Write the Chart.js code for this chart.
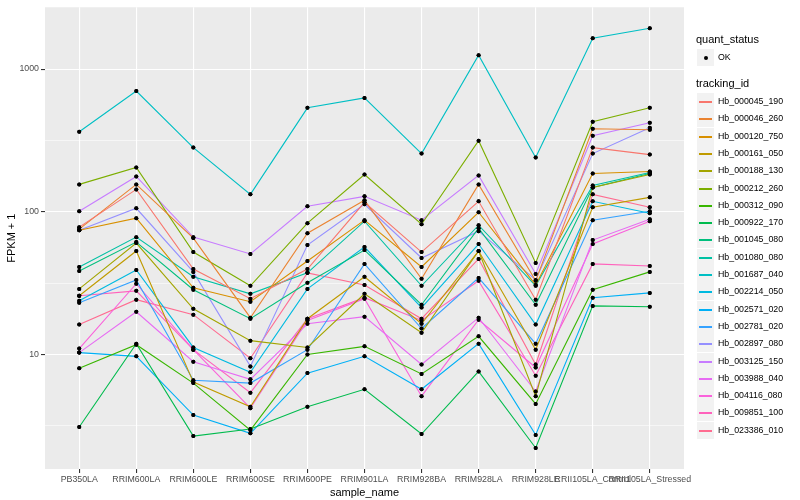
<!DOCTYPE html>
<html>
<head>
<meta charset="utf-8">
<script src="https://cdn.jsdelivr.net/npm/chart.js@4.4.1/dist/chart.umd.min.js"></script>
<style>
  html, body { margin: 0; padding: 0; background: #fff; }
  #wrap { position: relative; width: 800px; height: 500px; font-family: "Liberation Sans", Arial, sans-serif; }
  #legend { position: absolute; left: 0; top: 0; }
  .lt { position: absolute; left: 696px; font-size: 11px; line-height: 13px; color: #000; white-space: nowrap; }
  .key { position: absolute; left: 697px; width: 17px; height: 17px; background: #f2f2f2; }
  .key i { position: absolute; left: 2px; width: 13px; top: 8px; height: 1.5px; }
  .key b { position: absolute; left: 6.5px; top: 6.5px; width: 4px; height: 4px; border-radius: 50%; background: #000; }
  .lab { position: absolute; left: 718px; font-size: 8.8px; line-height: 11px; color: #000; white-space: nowrap; }
</style>
</head>
<body>
<div id="wrap">
  <canvas id="fpkmChart" width="800" height="500"></canvas>
  <div id="legend"></div>
</div>
<script>
/* FPKM + 1 per sample, one line per tracking_id, log10 y axis */

const sampleNames = ['PB350LA','RRIM600LA','RRIM600LE','RRIM600SE','RRIM600PE','RRIM901LA',
  'RRIM928BA','RRIM928LA','RRIM928LE','RRII105LA_Control','RRII105LA_Stressed'];

const trackingIds = ['Hb_000045_190','Hb_000046_260','Hb_000120_750','Hb_000161_050','Hb_000188_130',
  'Hb_000212_260','Hb_000312_090','Hb_000922_170','Hb_001045_080','Hb_001080_080',
  'Hb_001687_040','Hb_002214_050','Hb_002571_020','Hb_002781_020','Hb_002897_080',
  'Hb_003125_150','Hb_003988_040','Hb_004116_080','Hb_009851_100','Hb_023386_010'];

const seriesColors = ['#F8766D','#EA8331','#D89000','#C09B00','#A3A500','#7CAE00','#39B600','#00BB4E',
  '#00BF7D','#00C1A3','#00BFC4','#00BAE0','#00B0F6','#35A2FF','#9590FF','#C77CFF',
  '#E76BF3','#FA62DB','#FF62BC','#FF6C91'];

const hb000045_190 = [78, 143.5, 39.7, 24.6, 39.7, 116.5, 52.2, 118.4, 24.2, 281.5, 251.6];
const hb000046_260 = [75.5, 155.5, 65.4, 18.1, 70.8, 120.3, 33.9, 155.5, 32.8, 382, 375.8];
const hb000120_750 = [74.3, 90.1, 29.3, 23.4, 45.2, 87.3, 41.0, 99.2, 30.7, 185.5, 191.5];
const hb000161_050 = [25.8, 53.1, 6.4, 4.3, 17.8, 35.0, 16.4, 53.1, 10.8, 107.5, 126.2];
const hb000188_130 = [28.8, 60.3, 20.9, 12.5, 11.2, 26.6, 14.2, 53.1, 5.1, 148.2, 182.5];
const hb000212_260 = [155.5, 204.2, 52.2, 30.3, 83.2, 182.5, 81.8, 315, 43.8, 427, 535];
const hb000312_090 = [8.0, 11.7, 6.3, 2.95, 10.0, 11.4, 7.3, 13.4, 4.5, 28.4, 37.9];
const hb000922_170 = [3.1, 11.9, 2.68, 3.0, 4.3, 5.7, 2.77, 7.6, 2.21, 21.9, 21.6];
const hb001045_080 = [38.5, 61.3, 28.4, 17.8, 31.8, 53.9, 22.3, 76.7, 22.3, 148.2, 185.5];
const hb001080_080 = [41.0, 66.4, 35.0, 26.6, 37.3, 85.9, 30.3, 80.5, 30.3, 153, 188.5];
const hb001687_040 = [364, 702, 281.5, 132.4, 535, 628, 255.7, 1252, 239.8, 1644, 1931];
const hb002214_050 = [23.8, 39.1, 11.2, 7.5, 28.8, 56.6, 21.3, 59.4, 16.2, 118.4, 97.6];
const hb002571_020 = [10.3, 9.7, 3.76, 2.8, 7.4, 9.7, 5.7, 11.9, 2.73, 25.0, 27.0];
const hb002781_020 = [23.0, 33.3, 6.6, 6.3, 10.8, 43.1, 15.2, 34.4, 11.9, 87.3, 100.8];
const hb002897_080 = [74.3, 105.8, 37.9, 8.25, 58.4, 112.8, 47.4, 73.1, 33.3, 255.7, 388];
const hb003125_150 = [100.8, 176.8, 66.4, 50.6, 109.2, 128.2, 87.3, 179.7, 36.7, 341, 420];
const hb003988_040 = [10.3, 19.9, 8.9, 6.7, 16.4, 18.4, 8.5, 18.1, 5.5, 63.3, 88.7];
const hb004116_080 = [11.0, 31.3, 10.8, 4.2, 17.3, 24.6, 5.1, 17.5, 8.1, 59.4, 85.9];
const hb009851_100 = [25.8, 27.9, 10.8, 5.4, 17.8, 25.0, 17.3, 32.8, 7.1, 43.1, 41.7];
const hb023386_010 = [16.2, 24.2, 19.0, 9.4, 37.3, 30.7, 17.8, 46.7, 8.5, 132.4, 107.5];

const seriesValues = [hb000045_190, hb000046_260, hb000120_750, hb000161_050, hb000188_130,
  hb000212_260, hb000312_090, hb000922_170, hb001045_080, hb001080_080,
  hb001687_040, hb002214_050, hb002571_020, hb002781_020, hb002897_080,
  hb003125_150, hb003988_040, hb004116_080, hb009851_100, hb023386_010];

const yMajorTicks = [10, 100, 1000];
const yMinorTicks = [3.1623, 31.623, 316.23];

const FONT = "'Liberation Sans', Arial, sans-serif";
Chart.defaults.font.family = FONT;

const isMajor = v => yMajorTicks.some(m => Math.abs(m - v) < 1e-6);

// grey ggplot panel behind the grid
const panelBg = {
  id: 'panelBg',
  beforeDraw(chart){
    const {ctx, chartArea:a} = chart;
    ctx.save();
    ctx.fillStyle = '#ebebeb';
    ctx.fillRect(a.left, a.top, a.right - a.left, a.bottom - a.top);
    ctx.restore();
  }
};

// points go on top of every line, like geom_point after geom_line
const pointsOnTop = {
  id: 'pointsOnTop',
  afterDatasetsDraw(chart){
    const ctx = chart.ctx;
    ctx.save();
    chart.data.datasets.forEach((ds, i) => {
      chart.getDatasetMeta(i).data.forEach(pt => pt.draw(ctx, chart.chartArea));
    });
    ctx.restore();
  }
};

const datasets = trackingIds.map((id, k) => ({
  label: id,
  data: seriesValues[k].map((v, i) => ({x: i, y: v})),
  borderColor: seriesColors[k],
  backgroundColor: seriesColors[k],
  borderWidth: 1.1,
  pointRadius: 2,
  pointBackgroundColor: '#000',
  pointBorderWidth: 0,
  pointHoverRadius: 2,
  tension: 0,
  fill: false
}));

new Chart(document.getElementById('fpkmChart'), {
  type: 'line',
  data: { datasets },
  options: {
    responsive: false,
    animation: false,
    events: [],
    layout: { padding: { left: 0, top: 5, right: 116, bottom: 0 } },
    plugins: { legend: { display: false }, tooltip: { enabled: false } },
    scales: {
      x: {
        type: 'linear', min: -0.6, max: 10.6,
        afterBuildTicks: s => { s.ticks = sampleNames.map((_, i) => ({value: i})); },
        afterFit: s => { s.height = 31; },
        border: { display: false },
        grid: { color: '#ffffff', lineWidth: 1.1, tickLength: 4, tickColor: '#333333' },
        ticks: {
          autoSkip: false, maxRotation: 0, minRotation: 0, padding: 1,
          color: '#4d4d4d', font: { size: 8.8 },
          callback: v => sampleNames[v]
        },
        title: { display: true, text: 'sample_name', color: '#000', font: { size: 11 }, padding: { top: 4, bottom: 0 } }
      },
      y: {
        type: 'logarithmic', min: 1.575, max: 2710,
        afterBuildTicks: s => { s.ticks = yMinorTicks.concat(yMajorTicks).sort((a, b) => a - b).map(v => ({value: v})); },
        afterFit: s => { s.width = 45; },
        border: { display: false },
        grid: {
          color: '#ffffff',
          lineWidth: c => (c.tick && isMajor(c.tick.value)) ? 1.1 : 0.55,
          tickLength: 4,
          tickColor: c => (c.tick && isMajor(c.tick.value)) ? '#333333' : 'rgba(0,0,0,0)'
        },
        ticks: {
          autoSkip: false, padding: 2, color: '#4d4d4d', font: { size: 8.8 },
          callback: v => isMajor(v) ? String(Math.round(v)) : ''
        },
        title: { display: true, text: 'FPKM + 1', color: '#000', font: { size: 11 }, padding: { top: 5, bottom: 0 } }
      }
    }
  },
  plugins: [panelBg, pointsOnTop]
});

// legend in the ggplot layout, two guides stacked on the right
const legend = document.getElementById('legend');
let html = '<div class="lt" style="top:33px">quant_status</div>';
html += '<div class="key" style="top:49px"><b></b></div><div class="lab" style="top:52px">OK</div>';
html += '<div class="lt" style="top:77px">tracking_id</div>';
trackingIds.forEach((id, k) => {
  const cy = Math.round(101 + k * 17.3);
  html += '<div class="key" style="top:' + (cy - 8) + 'px"><i style="background:' + seriesColors[k] + '"></i></div>';
  html += '<div class="lab" style="top:' + (cy - 5) + 'px">' + id + '</div>';
});
legend.innerHTML = html;
</script>
</body>
</html>
